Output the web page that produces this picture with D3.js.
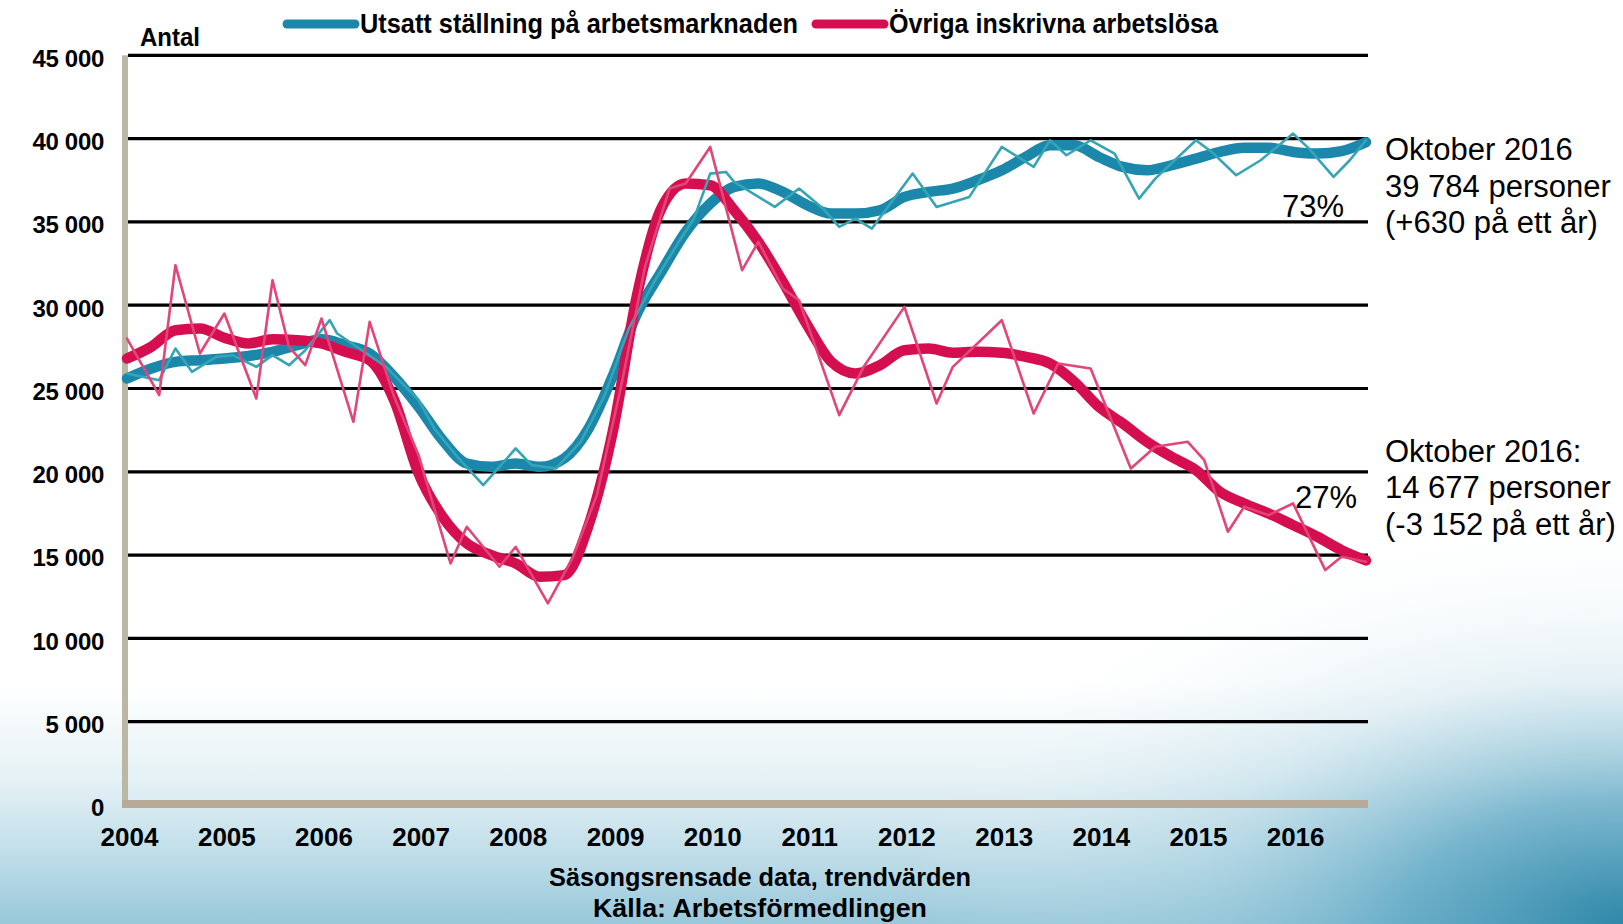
<!DOCTYPE html>
<html><head><meta charset="utf-8">
<script src="https://cdn.jsdelivr.net/npm/d3@7"></script>
<style>
html,body{margin:0;padding:0;background:#fff;}
svg{display:block;}
text{font-family:"Liberation Sans",Arial,sans-serif;}
</style></head><body>
<svg id="c" width="1623" height="924"></svg>
<script>
// ---------------- DATA ----------------
const seriesNames = ["Utsatt ställning på arbetsmarknaden", "Övriga inskrivna arbetslösa"];
const yearLabels = ["2004","2005","2006","2007","2008","2009","2010","2011","2012","2013","2014","2015","2016"];
const yTicks = [0,5000,10000,15000,20000,25000,30000,35000,40000,45000];

// trend values (thick lines), quarterly
const trendMonths = [
 "2004-01","2004-04","2004-07","2004-10","2005-01","2005-04","2005-07","2005-10",
 "2006-01","2006-04","2006-07","2006-10","2007-01","2007-04","2007-07","2007-10",
 "2008-01","2008-04","2008-07","2008-10","2009-01","2009-04","2009-07","2009-10",
 "2010-01","2010-04","2010-07","2010-10","2011-01","2011-04","2011-07","2011-10",
 "2012-01","2012-04","2012-07","2012-10","2013-01","2013-04","2013-07","2013-10",
 "2014-01","2014-04","2014-07","2014-10","2015-01","2015-04","2015-07","2015-10",
 "2016-01","2016-04","2016-07","2016-10"];
const trendUtsatt = [
 25600,26200,26600,26700,26800,26950,27200,27600,
 27950,27600,27100,25700,23900,21900,20500,20300,
 20500,20300,20800,22600,25800,29500,32000,34400,
 36100,37100,37300,36800,36000,35500,35500,35700,
 36500,36800,37000,37500,38100,38900,39600,39600,
 38900,38300,38100,38400,38800,39200,39450,39450,
 39200,39100,39250,39784];
const trendOvriga = [
 26800,27500,28500,28600,28050,27700,27950,27900,
 27700,27200,26700,24300,19900,17300,15700,15000,
 14500,13700,13800,16800,22500,30600,35800,37300,
 37200,35700,33800,31400,28800,26600,25900,26400,
 27300,27400,27150,27200,27150,26900,26500,25400,
 23900,22900,21800,20900,20100,18800,18100,17500,
 16800,16100,15300,14677];

// seasonally adjusted values (thin lines)
const rawUtsattMonths = [
 "2004-01","2004-05","2004-07","2004-09","2004-12","2005-02","2005-05","2005-07","2005-09","2005-11",
 "2006-02","2006-03","2006-06","2006-09","2007-01","2007-03","2007-06","2007-09","2008-01","2008-03",
 "2008-06","2008-09","2008-12","2009-03","2009-06","2009-09","2009-11","2010-01","2010-03","2010-04",
 "2010-09","2010-12","2011-03","2011-05","2011-07","2011-09","2012-02","2012-05","2012-09","2013-01",
 "2013-05","2013-07","2013-09","2013-12","2014-03","2014-06","2014-08","2015-01","2015-03","2015-06",
 "2015-09","2016-01","2016-03","2016-06","2016-08","2016-10"];
const rawUtsattValues = [
 25900,25500,27400,26000,26900,27000,26300,27000,26400,27300,
 29100,28300,27300,26300,24300,22600,20800,19200,21400,20400,
 20200,21800,24600,28600,31300,33700,35200,37900,38000,37400,
 35900,37000,35800,34700,35200,34600,37900,35900,36500,39500,
 38300,39900,39000,39900,39100,36400,37600,39900,39200,37800,
 38700,40300,39400,37700,38700,39900];

const rawOvrigaMonths = [
 "2004-01","2004-05","2004-07","2004-10","2005-01","2005-05","2005-07","2005-09","2005-11","2006-01",
 "2006-05","2006-07","2006-10","2007-01","2007-05","2007-07","2007-11","2008-01","2008-05","2008-08",
 "2008-11","2009-02","2009-05","2009-08","2009-10","2010-01","2010-05","2010-07","2010-10","2010-12",
 "2011-02","2011-05","2011-08","2012-01","2012-05","2012-07","2013-01","2013-05","2013-08","2013-12",
 "2014-05","2014-08","2014-12","2015-02","2015-05","2015-07","2015-10","2016-01","2016-05","2016-07",
 "2016-10"];
const rawOvrigaValues = [
 28000,24600,32400,27100,29500,24400,31500,27500,26400,29200,
 23000,29000,24500,21000,14500,16700,14300,15500,12100,14800,
 18600,25200,32300,37000,37300,39500,32100,33800,31000,30300,
 27500,23400,26300,29900,24100,26300,29100,23500,26500,26200,
 20200,21500,21800,20700,16400,17900,17400,18100,14100,14900,
 14600];

const colors = {utsattThick:"#1b88ab", utsattThin:"#35a5b6", ovrigaThick:"#d50f4f", ovrigaThin:"#e2457a"};

// ---------------- CHART ----------------
const W = 1623, H = 924;
const svg = d3.select("#c");
const parse = d3.timeParse("%Y-%m");

const defs = svg.append("defs");
const lg = defs.append("linearGradient").attr("id","bgv").attr("x1",0).attr("y1",0).attr("x2",0).attr("y2",1);
[[0,"#ffffff"],[0.74,"#ffffff"],[0.84,"#e6f2f6"],[0.93,"#bddce8"],[1,"#98c8da"]]
  .forEach(([o,c])=>lg.append("stop").attr("offset",o).attr("stop-color",c));
const rg = defs.append("radialGradient").attr("id","bgr").attr("cx",1).attr("cy",1).attr("r",0.45);
[[0,"#2a84a6",0.95],[0.3,"#4f9fbe",0.65],[0.6,"#9ccadb",0.25],[1,"#ffffff",0]]
  .forEach(([o,c,op])=>rg.append("stop").attr("offset",o).attr("stop-color",c).attr("stop-opacity",op));
svg.append("rect").attr("width",W).attr("height",H).attr("fill","url(#bgv)");
svg.append("rect").attr("width",W).attr("height",H).attr("fill","url(#bgr)");

const x = d3.scaleTime().domain([parse("2004-01"), parse("2016-10")]).range([127, 1366]);
const y = d3.scaleLinear().domain([0, 45000]).range([805, 55.3]);

// gridlines
svg.append("g").selectAll("line").data(yTicks.filter(d=>d>0)).join("line")
  .attr("x1",128).attr("x2",1368).attr("y1",d=>y(d)).attr("y2",d=>y(d))
  .attr("stroke","#000").attr("stroke-width",3.2);

// axis bands
svg.append("rect").attr("x",122).attr("y",y(45000)).attr("width",6).attr("height",y(0)-y(45000)+3).attr("fill","#bbb7a5");
svg.append("rect").attr("x",122).attr("y",y(0)-5).attr("width",1368-122).attr("height",8).attr("fill","#b7aa99");

// y axis labels
const fmt = d => d3.format(",")(d).replace(/,/g," ");
const yAxis = svg.append("g").attr("transform","translate(104,0)")
  .call(d3.axisLeft(y).tickValues(yTicks).tickSize(0).tickPadding(0).tickFormat(fmt));
yAxis.select(".domain").remove();
yAxis.selectAll("text").attr("dy","0.45em")
  .style("font-family","'Liberation Sans',Arial,sans-serif").style("font-size","24px")
  .style("font-weight","bold").style("letter-spacing","-0.3px").attr("fill","#000");

// x axis labels
const xAxis = svg.append("g").attr("transform","translate(2,828)")
  .call(d3.axisBottom(x).tickValues(yearLabels.map(s=>parse(s+"-01"))).tickSize(0).tickPadding(0)
        .tickFormat(d3.timeFormat("%Y")));
xAxis.select(".domain").remove();
xAxis.selectAll("text")
  .style("font-family","'Liberation Sans',Arial,sans-serif").style("font-size","26px")
  .style("font-weight","bold").attr("fill","#000");

// lines
const lineTrend = d3.line().x(d=>x(d.date)).y(d=>y(d.v)).curve(d3.curveMonotoneX);
const lineRaw = d3.line().x(d=>x(d.date)).y(d=>y(d.v)).curve(d3.curveLinear);
const tU = trendMonths.map((m,i)=>({date:parse(m), v:trendUtsatt[i]}));
const tO = trendMonths.map((m,i)=>({date:parse(m), v:trendOvriga[i]}));
const rU = rawUtsattMonths.map((m,i)=>({date:parse(m), v:rawUtsattValues[i]}));
const rO = rawOvrigaMonths.map((m,i)=>({date:parse(m), v:rawOvrigaValues[i]}));

const plot = svg.append("g").attr("fill","none").attr("stroke-linejoin","round").attr("stroke-linecap","round");
plot.append("path").attr("d",lineTrend(tU)).attr("stroke",colors.utsattThick).attr("stroke-width",10.5);
plot.append("path").attr("d",lineTrend(tO)).attr("stroke",colors.ovrigaThick).attr("stroke-width",10.5);
plot.append("path").attr("d",lineRaw(rU)).attr("stroke",colors.utsattThin).attr("stroke-width",2.6);
plot.append("path").attr("d",lineRaw(rO)).attr("stroke",colors.ovrigaThin).attr("stroke-width",2.6);

// legend
const leg = svg.append("g");
const legItems = [
  {name:seriesNames[0], color:colors.utsattThick, x1:287, x2:355, tx:360, tw:438},
  {name:seriesNames[1], color:colors.ovrigaThick, x1:816, x2:884, tx:889, tw:329}
];
legItems.forEach(it=>{
  leg.append("line").attr("x1",it.x1).attr("x2",it.x2).attr("y1",24).attr("y2",24)
    .attr("stroke",it.color).attr("stroke-width",9).attr("stroke-linecap","round");
  leg.append("text").attr("x",it.tx).attr("y",33).text(it.name)
    .attr("font-size",27).attr("font-weight","bold").attr("textLength",it.tw).attr("lengthAdjust","spacingAndGlyphs");
});

// "Antal"
svg.append("text").attr("x",140).attr("y",46).text("Antal")
  .attr("font-size",26).attr("font-weight","bold").attr("textLength",60).attr("lengthAdjust","spacingAndGlyphs");

// bottom captions
svg.append("text").attr("x",760).attr("y",886).attr("text-anchor","middle").text("Säsongsrensade data, trendvärden")
  .attr("font-size",26).attr("font-weight","bold").attr("textLength",422).attr("lengthAdjust","spacingAndGlyphs");
svg.append("text").attr("x",760).attr("y",917).attr("text-anchor","middle").text("Källa: Arbetsförmedlingen")
  .attr("font-size",26).attr("font-weight","bold").attr("textLength",334).attr("lengthAdjust","spacingAndGlyphs");

// annotations
const ann = svg.append("g").attr("font-size",31).attr("fill","#000");
[["Oktober 2016",160],["39 784 personer",197],["(+630 på ett år)",233]].forEach(([t,yy])=>
  ann.append("text").attr("x",1385).attr("y",yy).text(t));
[["Oktober 2016:",462],["14 677 personer",498],["(-3 152 på ett år)",535]].forEach(([t,yy])=>
  ann.append("text").attr("x",1385).attr("y",yy).text(t));
ann.append("text").attr("x",1282).attr("y",217).text("73%");
ann.append("text").attr("x",1295).attr("y",508).text("27%");
</script>
</body></html>
